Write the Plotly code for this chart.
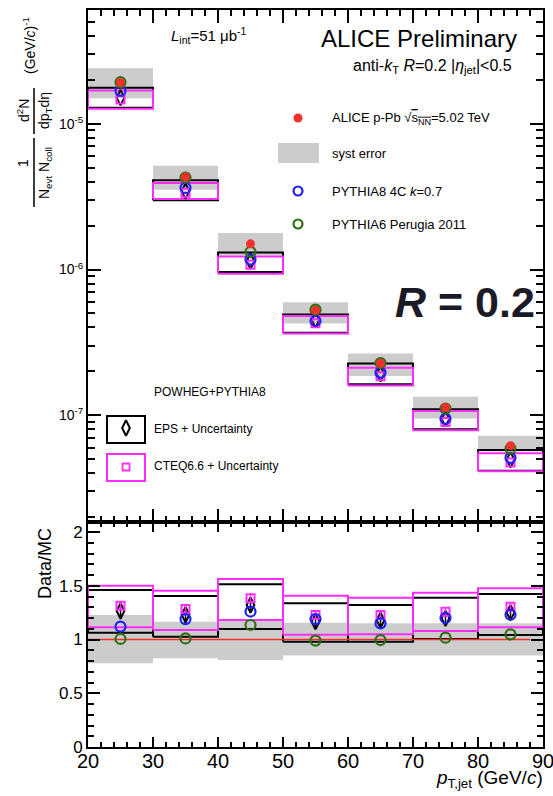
import plotly.graph_objects as go

# ---------------- data ----------------
bin_lo = [20, 30, 40, 50, 60, 70, 80]
bin_hi = [30, 40, 50, 60, 70, 80, 90]
bin_center = [25, 35, 45, 55, 65, 75, 85]

# top panel: spectra
data_spectrum = [1.92e-5, 4.31e-6, 1.50e-6, 5.26e-7, 2.27e-7, 1.13e-7, 6.17e-8]
syst_lo = [1.50e-5, 3.53e-6, 1.25e-6, 4.26e-7, 1.86e-7, 9.49e-8, 5.64e-8]
syst_hi = [2.41e-5, 5.16e-6, 1.78e-6, 5.97e-7, 2.65e-7, 1.34e-7, 7.22e-8]
pythia8 = [1.68e-5, 3.63e-6, 1.17e-6, 4.43e-7, 1.96e-7, 9.45e-8, 5.10e-8]
pythia6 = [1.93e-5, 4.27e-6, 1.32e-6, 5.30e-7, 2.28e-7, 1.11e-7, 5.90e-8]
eps = [1.51e-5, 3.45e-6, 1.14e-6, 4.51e-7, 1.92e-7, 9.44e-8, 4.94e-8]
eps_lo = [1.29e-5, 2.99e-6, 9.60e-7, 3.68e-7, 1.63e-7, 8.01e-8, 4.15e-8]
eps_hi = [1.77e-5, 4.09e-6, 1.31e-6, 4.92e-7, 2.26e-7, 1.10e-7, 5.78e-8]
cteq = [1.47e-5, 3.36e-6, 1.08e-6, 4.28e-7, 1.85e-7, 8.98e-8, 4.73e-8]
cteq_lo = [1.27e-5, 3.05e-6, 9.35e-7, 3.63e-7, 1.60e-7, 7.88e-8, 4.12e-8]
cteq_hi = [1.69e-5, 3.93e-6, 1.23e-6, 4.79e-7, 2.12e-7, 1.07e-7, 5.49e-8]

# bottom panel: Data/MC ratios
ratio_syst_lo = [0.78, 0.825, 0.81, 0.85, 0.85, 0.85, 0.85]
ratio_syst_hi = [1.228, 1.166, 1.172, 1.155, 1.15, 1.15, 1.15]
ratio_pythia8 = [1.12, 1.19, 1.26, 1.19, 1.15, 1.20, 1.23]
ratio_pythia6 = [1.005, 1.01, 1.135, 0.99, 0.995, 1.017, 1.048]
ratio_eps = [1.265, 1.23, 1.32, 1.166, 1.18, 1.197, 1.25]
ratio_eps_err = [0.06, 0.05, 0.05, 0.05, 0.05, 0.05, 0.06]
ratio_eps_lo = [1.063, 1.026, 1.098, 0.98, 0.98, 1.005, 1.042]
ratio_eps_hi = [1.46, 1.405, 1.513, 1.337, 1.321, 1.389, 1.423]
ratio_cteq = [1.315, 1.284, 1.383, 1.228, 1.228, 1.259, 1.305]
ratio_cteq_err = [0.04, 0.04, 0.04, 0.04, 0.04, 0.04, 0.04]
ratio_cteq_lo = [1.113, 1.088, 1.181, 1.045, 1.048, 1.079, 1.113]
ratio_cteq_hi = [1.50, 1.454, 1.563, 1.408, 1.389, 1.435, 1.476]

x_ticks = [20, 30, 40, 50, 60, 70, 80, 90]
ratio_ticks = [0, 0.5, 1, 1.5, 2]
ratio_ticktext = ["0", "0.5", "1", "1.5", "2"]
top_ticks = [1e-7, 1e-6, 1e-5]
top_ticktext = ["10<sup>-7</sup>", "10<sup>-6</sup>", "10<sup>-5</sup>"]

# ---------------- styling ----------------
FONT = "Liberation Sans, Arial, Helvetica, sans-serif"
RED = "#f0302a"
BLUE = "#1f1fff"
GREEN = "#2f6f14"
MAGENTA = "#ff2cff"
GRAY = "#cccccc"
W, H = 553, 796
L, R, T, B = 88, 10, 10, 49
PW, PH = W - L - R, H - T - B
split = (747 - 522) / PH


def PX(x):
    return (x - L) / PW


def PY(y):
    return (H - B - y) / PH


def rect_xy(lo_list, hi_list):
    xs, ys = [], []
    for a, b, lo, hi in zip(bin_lo, bin_hi, lo_list, hi_list):
        xs += [a, b, b, a, a, None]
        ys += [lo, lo, hi, hi, lo, None]
    return xs, ys


fig = go.Figure()


def add_panel(xa, ya, s_lo, s_hi, e_lo, e_hi, c_lo, c_hi, d_eps, d_cteq, d_p8, d_p6, d_data,
              eps_err=None, cteq_err=None):
    gx, gy = rect_xy(s_lo, s_hi)
    fig.add_trace(go.Scatter(x=gx, y=gy, mode="lines", fill="toself", fillcolor=GRAY,
                             line=dict(width=0, color=GRAY), xaxis=xa, yaxis=ya,
                             showlegend=False, hoverinfo="skip"))
    ex, ey = rect_xy(e_lo, e_hi)
    fig.add_trace(go.Scatter(x=ex, y=ey, mode="lines", line=dict(color="black", width=2),
                             xaxis=xa, yaxis=ya, showlegend=False, hoverinfo="skip"))
    cx, cy = rect_xy(c_lo, c_hi)
    fig.add_trace(go.Scatter(x=cx, y=cy, mode="lines", line=dict(color=MAGENTA, width=2),
                             xaxis=xa, yaxis=ya, showlegend=False, hoverinfo="skip"))
    if d_data is None:
        fig.add_trace(go.Scatter(x=[20, 88], y=[1, 1], mode="lines",
                                 line=dict(color=RED, width=1.5),
                                 xaxis=xa, yaxis=ya, showlegend=False))
    fig.add_trace(go.Scatter(x=bin_center, y=d_eps, mode="markers", xaxis=xa, yaxis=ya,
                             marker=dict(symbol="diamond-tall-open", size=11, color="black",
                                         line=dict(width=2, color="black")),
                             error_y=dict(type="data", array=eps_err, color="black",
                                          thickness=1.5, width=0) if eps_err else None,
                             showlegend=False))
    fig.add_trace(go.Scatter(x=bin_center, y=d_cteq, mode="markers", xaxis=xa, yaxis=ya,
                             marker=dict(symbol="square-open", size=8, color=MAGENTA,
                                         line=dict(width=2, color=MAGENTA)),
                             error_y=dict(type="data", array=cteq_err, color=MAGENTA,
                                          thickness=1.5, width=0) if cteq_err else None,
                             showlegend=False))
    fig.add_trace(go.Scatter(x=bin_center, y=d_p8, mode="markers", xaxis=xa, yaxis=ya,
                             marker=dict(symbol="circle-open", size=10, color=BLUE,
                                         line=dict(width=2.2, color=BLUE)),
                             showlegend=False))
    fig.add_trace(go.Scatter(x=bin_center, y=d_p6, mode="markers", xaxis=xa, yaxis=ya,
                             marker=dict(symbol="circle-open", size=10, color=GREEN,
                                         line=dict(width=2.2, color=GREEN)),
                             showlegend=False))
    if d_data is not None:
        fig.add_trace(go.Scatter(x=bin_center, y=d_data, mode="markers", xaxis=xa, yaxis=ya,
                                 marker=dict(symbol="circle", size=9, color=RED),
                                 showlegend=False))


add_panel("x", "y", syst_lo, syst_hi, eps_lo, eps_hi, cteq_lo, cteq_hi,
          eps, cteq, pythia8, pythia6, data_spectrum)
add_panel("x2", "y2", ratio_syst_lo, ratio_syst_hi, ratio_eps_lo, ratio_eps_hi,
          ratio_cteq_lo, ratio_cteq_hi, ratio_eps, ratio_cteq, ratio_pythia8,
          ratio_pythia6, None, ratio_eps_err, ratio_cteq_err)

# ---------------- legend (manual, pixel overlay axis) ----------------
fig.add_trace(go.Scatter(x=[298], y=[118], mode="markers", xaxis="x3", yaxis="y3",
                         marker=dict(symbol="circle", size=9, color=RED), showlegend=False))
fig.add_trace(go.Scatter(x=[298], y=[191], mode="markers", xaxis="x3", yaxis="y3",
                         marker=dict(symbol="circle-open", size=9, color=BLUE,
                                     line=dict(width=2.2, color=BLUE)), showlegend=False))
fig.add_trace(go.Scatter(x=[298], y=[224], mode="markers", xaxis="x3", yaxis="y3",
                         marker=dict(symbol="circle-open", size=9, color=GREEN,
                                     line=dict(width=2.2, color=GREEN)), showlegend=False))
fig.add_trace(go.Scatter(x=[126], y=[428], mode="markers", xaxis="x3", yaxis="y3",
                         marker=dict(symbol="diamond-tall-open", size=11, color="black",
                                     line=dict(width=2, color="black")), showlegend=False))
fig.add_trace(go.Scatter(x=[126], y=[467], mode="markers", xaxis="x3", yaxis="y3",
                         marker=dict(symbol="square-open", size=7, color=MAGENTA,
                                     line=dict(width=1.8, color=MAGENTA)), showlegend=False))

shapes = [
    dict(type="rect", xref="paper", yref="paper", x0=PX(278), x1=PX(319), y0=PY(143), y1=PY(163),
         fillcolor=GRAY, line=dict(width=0)),
    dict(type="rect", xref="paper", yref="paper", x0=PX(107), x1=PX(145), y0=PY(416), y1=PY(443),
         line=dict(color="black", width=2)),
    dict(type="rect", xref="paper", yref="paper", x0=PX(107), x1=PX(145), y0=PY(454), y1=PY(481),
         line=dict(color=MAGENTA, width=2)),
    # fraction bars of y title
    dict(type="line", xref="paper", yref="paper", x0=PX(34), x1=PX(34), y0=PY(138), y1=PY(207),
         line=dict(color="black", width=1.5)),
    dict(type="line", xref="paper", yref="paper", x0=PX(34), x1=PX(34), y0=PY(88), y1=PY(134),
         line=dict(color="black", width=1.5)),
]

ann = []


def text(x, y, s, size, xanchor="left", angle=0, yanchor="middle", color="black"):
    ann.append(dict(x=PX(x), y=PY(y), xref="paper", yref="paper", text=s, showarrow=False,
                    xanchor=xanchor, yanchor=yanchor, textangle=angle,
                    font=dict(family=FONT, size=size, color=color)))


text(169, 36, "<i>L</i><sub>int</sub>=51 μb<sup>-1</sup>", 15)
text(519, 38, "ALICE Preliminary", 24, xanchor="right")
text(514, 67, "anti-<i>k</i><sub>T</sub> <i>R</i>=0.2 |<i>η</i><sub>jet</sub>|<0.5", 16,
     xanchor="right")
text(330, 118, "ALICE p-Pb √<span style='text-decoration:overline'>s<sub>NN</sub></span>=5.02 TeV", 13)
text(330, 153, "syst error", 13)
text(330, 191, "PYTHIA8 4C <i>k</i>=0.7", 13)
text(330, 224, "PYTHIA6 Perugia 2011", 13)
text(537, 302, "<b><i>R</i> = 0.2</b>", 43, xanchor="right", color="#1b1b28")
text(152, 392, "POWHEG+PYTHIA8", 12)
text(152, 429, "EPS + Uncertainty", 12)
text(152, 466, "CTEQ6.6 + Uncertainty", 12)
# y titles
text(23, 163, "1", 14, xanchor="center", angle=-90)
text(45, 173, "N<sub>evt</sub> N<sub>coll</sub>", 14, xanchor="center", angle=-90)
text(23, 111, "d<sup>2</sup>N", 14, xanchor="center", angle=-90)
text(45, 111, "dp<sub>T</sub>dη", 14, xanchor="center", angle=-90)
text(29, 45, "(GeV/<i>c</i>)<sup>-1</sup>", 14, xanchor="center", angle=-90)
text(45, 564, "Data/MC", 18, xanchor="center", angle=-90)
text(545, 779, "<i>p</i><sub>T,jet</sub> (GeV/<i>c</i>)", 19, xanchor="right")

axis_common = dict(showline=True, linecolor="black", linewidth=2, mirror="ticks",
                   ticks="inside", tickcolor="black", tickwidth=1.5, showgrid=False,
                   zeroline=False, automargin=False)

fig.update_layout(
    width=W, height=H,
    margin=dict(l=L, r=R, t=T, b=B, autoexpand=False),
    paper_bgcolor="white", plot_bgcolor="rgba(0,0,0,0)",
    font=dict(family=FONT, color="black"),
    shapes=shapes, annotations=ann,
    xaxis=dict(domain=[0, 1], anchor="y", range=[20, 90], tickvals=x_ticks,
               showticklabels=False, ticklen=13,
               minor=dict(ticks="inside", dtick=2, tick0=20, ticklen=6, tickcolor="black",
                          tickwidth=1.5),
               **axis_common),
    yaxis=dict(domain=[split, 1], anchor="x", type="log", range=[-7.733, -4.219],
               tickvals=top_ticks, ticktext=top_ticktext, ticklen=13,
               tickfont=dict(size=14, family=FONT),
               minor=dict(ticks="inside", ticklen=7, tickcolor="black", tickwidth=1.5,
                          dtick="D1"),
               **axis_common),
    xaxis2=dict(domain=[0, 1], anchor="y2", range=[20, 90], tickvals=x_ticks, ticklen=10,
                tickfont=dict(size=20, family=FONT), ticklabelstandoff=-5,
                ticklabeloverflow="allow",
                minor=dict(ticks="inside", dtick=2, tick0=20, ticklen=5, tickcolor="black",
                           tickwidth=1.5),
                **axis_common),
    yaxis2=dict(domain=[0, split], anchor="x2", range=[0, 2.093], tickvals=ratio_ticks,
                ticktext=ratio_ticktext, ticklen=12, tickfont=dict(size=17, family=FONT),
                minor=dict(ticks="inside", dtick=0.1, tick0=0, ticklen=6, tickcolor="black",
                           tickwidth=1.5),
                **axis_common),
    xaxis3=dict(domain=[0, 1], anchor="y3", range=[L, W - R], visible=False),
    yaxis3=dict(domain=[0, 1], anchor="x3", range=[H - B, T], visible=False),
)

fig.write_html("out.html")
